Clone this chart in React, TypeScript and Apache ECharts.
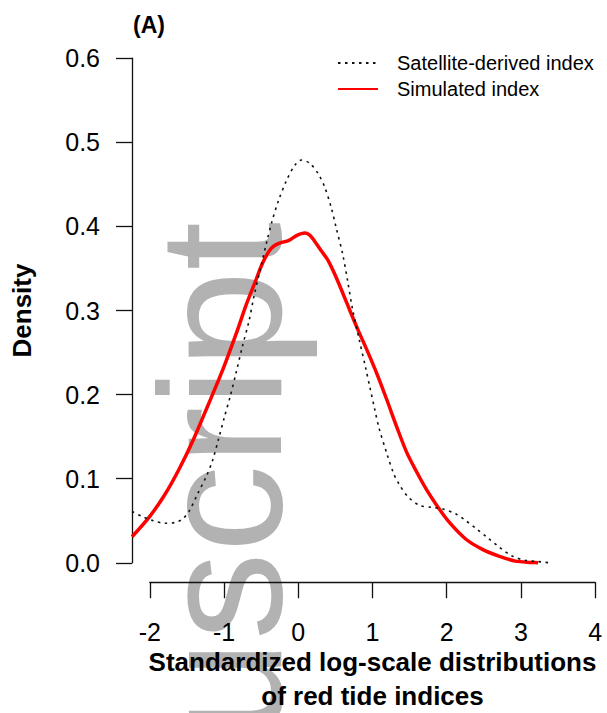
import React, { useEffect, useRef } from "react";
import * as echarts from "echarts";

// Satellite-derived index density (black dotted)
const satX = [-2.24, -2.1, -1.95, -1.79, -1.65, -1.55, -1.456, -1.345, -1.23, -1.14, -1.06, -0.98, -0.9, -0.82, -0.735, -0.645, -0.578, -0.487, -0.398, -0.33, -0.24, -0.13, -0.016, 0.073, 0.186, 0.297, 0.388, 0.476, 0.544, 0.634, 0.7, 0.768, 0.858, 0.947, 1.007, 1.07, 1.128, 1.24, 1.33, 1.4, 1.53, 1.69, 1.845, 2.0, 2.18, 2.316, 2.45, 2.61, 2.765, 2.945, 3.124, 3.3, 3.46];
const satY = [0.061, 0.055, 0.05, 0.047, 0.048, 0.052, 0.062, 0.082, 0.102, 0.122, 0.147, 0.173, 0.198, 0.226, 0.257, 0.287, 0.316, 0.35, 0.383, 0.406, 0.431, 0.455, 0.473, 0.479, 0.475, 0.463, 0.447, 0.423, 0.399, 0.367, 0.336, 0.302, 0.266, 0.232, 0.208, 0.183, 0.161, 0.129, 0.106, 0.094, 0.078, 0.068, 0.066, 0.064, 0.058, 0.05, 0.041, 0.03, 0.019, 0.008, 0.003, 0.0015, 0.0];

// Simulated index density (red)
const simX = [-2.24, -2.0, -1.8, -1.6, -1.4, -1.2, -1.0, -0.8, -0.69, -0.555, -0.466, -0.375, -0.3, -0.2, -0.106, 0.005, 0.118, 0.18, 0.23, 0.342, 0.432, 0.522, 0.634, 0.746, 0.858, 0.97, 1.1, 1.24, 1.374, 1.509, 1.644, 1.778, 1.935, 2.09, 2.316, 2.54, 2.765, 2.99, 3.21, 3.3];
const simY = [0.031, 0.055, 0.08, 0.111, 0.147, 0.188, 0.23, 0.277, 0.305, 0.335, 0.355, 0.37, 0.377, 0.381, 0.383, 0.389, 0.392, 0.39, 0.385, 0.371, 0.36, 0.344, 0.321, 0.297, 0.274, 0.252, 0.225, 0.193, 0.161, 0.131, 0.108, 0.087, 0.066, 0.048, 0.028, 0.016, 0.008, 0.002, 0.0005, 0.0];

const seriesNames = ["Satellite-derived index", "Simulated index"];
const xTickMin = -2;
const xTickMax = 4;
const yTickMin = 0;
const yTickMax = 0.6;

const FONT = "'Liberation Sans', Arial, Helvetica, sans-serif";

export default function App() {
  const ref = useRef<HTMLDivElement>(null);
  useEffect(() => {
    if (!ref.current) return;
    const chart = echarts.init(ref.current, undefined, { renderer: "svg" });
    const satData = satX.map((x, i) => [x, satY[i]]);
    const simData = simX.map((x, i) => [x, simY[i]]);
    const hiddenAxis = {
      show: false,
      splitLine: { show: false },
    };
    chart.setOption({
      animation: false,
      backgroundColor: "#ffffff",
      textStyle: { fontFamily: FONT },
      title: {
        text: "(A)",
        left: 133,
        top: 13,
        padding: 0,
        textStyle: { fontSize: 23, fontWeight: "bold", color: "#000", fontFamily: FONT },
      },
      legend: {
        data: seriesNames,
        orient: "vertical",
        left: 337,
        top: 53,
        padding: 0,
        itemWidth: 40,
        itemHeight: 14,
        itemGap: 6,
        itemStyle: { opacity: 0 },
        lineStyle: { width: 2 },
        textStyle: { fontSize: 20, lineHeight: 20, color: "#000", fontFamily: FONT, padding: [0, 0, 0, 14] },
      },
      graphic: [
        {
          type: "text",
          x: 220,
          y: 222,
          rotation: Math.PI / 2,
          z: -100,
          silent: true,
          style: {
            text: "Manuscript",
            fill: "#b2b2b2",
            font: `175px ${FONT}`,
            textAlign: "right",
            textVerticalAlign: "middle",
          },
        },
      ],
      grid: [
        { left: 132, top: 38, width: 481, height: 545 },
        { left: 149.8, top: 582, width: 445.4, height: 1 },
        { left: 132, top: 58.2, width: 1, height: 504.6 },
      ],
      xAxis: [
        { type: "value", gridIndex: 0, min: -2.24, max: 4.24, ...hiddenAxis },
        {
          type: "value",
          gridIndex: 1,
          min: xTickMin,
          max: xTickMax,
          interval: 1,
          position: "bottom",
          axisLine: { show: true, lineStyle: { color: "#111", width: 1.3 } },
          axisTick: { show: true, length: 16, lineStyle: { color: "#111", width: 1.3 } },
          axisLabel: { show: true, margin: 37, fontSize: 25, lineHeight: 25, color: "#000", fontFamily: FONT },
          splitLine: { show: false },
          name: "Standardized log-scale distributions\nof red tide indices",
          nameLocation: "middle",
          nameGap: 63,
          nameTextStyle: { fontSize: 26, fontWeight: "bold", lineHeight: 34, color: "#000", fontFamily: FONT },
        },
        { type: "value", gridIndex: 2, min: 0, max: 1, ...hiddenAxis },
      ],
      yAxis: [
        { type: "value", gridIndex: 0, min: -0.024, max: 0.624, ...hiddenAxis },
        { type: "value", gridIndex: 1, min: 0, max: 1, ...hiddenAxis },
        {
          type: "value",
          gridIndex: 2,
          min: yTickMin,
          max: yTickMax,
          interval: 0.1,
          position: "left",
          axisLine: { show: true, lineStyle: { color: "#111", width: 1.3 } },
          axisTick: { show: true, length: 16, lineStyle: { color: "#111", width: 1.3 } },
          axisLabel: {
            show: true,
            margin: 32,
            fontSize: 25,
            color: "#000",
            fontFamily: FONT,
            formatter: (v: number) => v.toFixed(1),
          },
          splitLine: { show: false },
          name: "Density",
          nameLocation: "middle",
          nameRotate: 90,
          nameGap: 97,
          nameTextStyle: { fontSize: 26, fontWeight: "bold", color: "#000", fontFamily: FONT },
        },
      ],
      series: [
        {
          name: seriesNames[0],
          type: "line",
          xAxisIndex: 0,
          yAxisIndex: 0,
          data: satData,
          symbol: "none",
          smooth: 0.3,
          z: 3,
          color: "#111",
          lineStyle: { color: "#111", width: 1.6, type: [2.5, 4.5], cap: "butt" },
        },
        {
          name: seriesNames[1],
          type: "line",
          xAxisIndex: 0,
          yAxisIndex: 0,
          data: simData,
          symbol: "none",
          smooth: 0.3,
          z: 2,
          color: "#ff0000",
          lineStyle: { color: "#ff0000", width: 3.5 },
        },
      ],
    });
    return () => chart.dispose();
  }, []);
  return (
    <div
      ref={ref}
      style={{ position: "fixed", left: 0, top: 0, width: 607, height: 713, background: "#fff" }}
    />
  );
}
